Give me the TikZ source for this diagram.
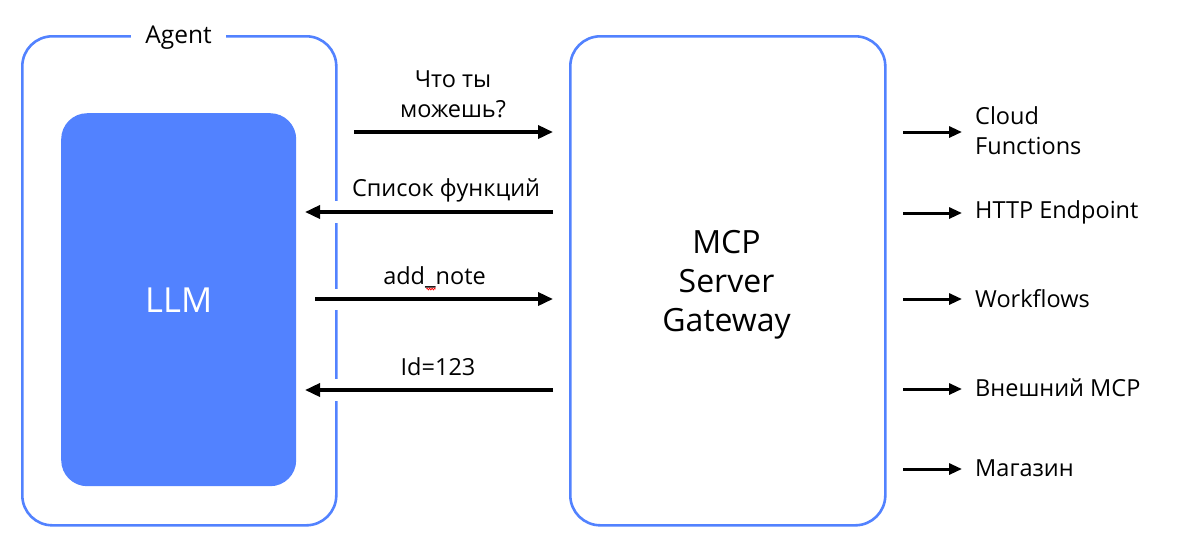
\documentclass[tikz,border=0pt]{standalone}
\usepackage{fontspec}
\setmainfont{Open Sans}
\usetikzlibrary{arrows.meta,decorations.pathmorphing}
\definecolor{yblue}{HTML}{5282FF}
\begin{document}
\begin{tikzpicture}[x=1pt,y=-1pt,
  outerbox/.style={draw=yblue, line width=2.6pt, rounded corners=30pt, anchor=north west, inner sep=0pt},
  lbl/.style={font=\fontsize{23.5}{30}\selectfont, align=center, inner sep=0pt},
  rlbl/.style={font=\fontsize{23.5}{30}\selectfont, align=left, anchor=west, inner sep=0pt},
  arr/.style={line width=3.5pt, -{Triangle[length=15pt,width=13pt]}},
  rarr/.style={line width=3pt, -{Triangle[length=13pt,width=11pt]}},
  gap/.style={fill=white, draw=none}
]
\useasboundingbox (0,0) rectangle (1180,542);
% Agent container
\node[outerbox, minimum width=314pt, minimum height=489pt] (agent) at (21,35) {};
\node[fill=white, inner xsep=14pt, inner ysep=2pt, font=\fontsize{24.5}{28}\selectfont] (agentlbl) at (178.5,37.5) {Agent};
% LLM
\node[fill=yblue, rounded corners=26pt, anchor=north west, minimum width=235pt, minimum height=373pt, inner sep=0pt,
      text=white, font=\fontsize{34.5}{40}\selectfont] (llm) at (61,113) {LLM};
% MCP gateway
\node[outerbox, minimum width=315pt, minimum height=489pt] (mcp) at (569,35) {};
\node[align=center, font=\fontsize{32}{39}\selectfont, inner sep=0pt] (mcplbl) at (726.5,284.5) {MCP\\Server\\Gateway};
% gaps in agent border where arrows cross
\fill[gap] (325,201) rectangle (346,223);
\fill[gap] (325,289) rectangle (346,310);
\fill[gap] (325,379) rectangle (346,401);
% arrow endpoints
\coordinate (a1s) at (354,132); \coordinate (a1e) at (553,132);
\coordinate (a2s) at (553,212); \coordinate (a2e) at (305,212);
\coordinate (a3s) at (315,299); \coordinate (a3e) at (553,299);
\coordinate (a4s) at (553,390); \coordinate (a4e) at (305,390);
\draw[arr] (a1s) -- (a1e);
\draw[arr] (a2s) -- (a2e);
\draw[arr] (a3s) -- (a3e);
\draw[arr] (a4s) -- (a4e);
\node[lbl] (l1) at (453,94.5) {Что ты\\можешь?};
\node[lbl] (l2) at (446,190.5) {Список функций};
\node[lbl] (l3) at (434.5,277) {add\_note};
\node[lbl] (l4) at (438,366.5) {Id=123};
\draw[red, line width=0.7pt, decorate, decoration={zigzag, amplitude=0.9pt, segment length=2.5pt}] (426.5,289) -- (435.5,289);
% right side
\coordinate (r1s) at (903,132); \coordinate (r1e) at (962,132);
\coordinate (r2s) at (903,213); \coordinate (r2e) at (962,213);
\coordinate (r3s) at (903,299); \coordinate (r3e) at (962,299);
\coordinate (r4s) at (903,389); \coordinate (r4e) at (962,389);
\coordinate (r5s) at (903,469); \coordinate (r5e) at (962,469);
\draw[rarr] (r1s) -- (r1e);
\draw[rarr] (r2s) -- (r2e);
\draw[rarr] (r3s) -- (r3e);
\draw[rarr] (r4s) -- (r4e);
\draw[rarr] (r5s) -- (r5e);
\node[rlbl] (t1) at (975,131) {Cloud\\Functions};
\node[rlbl] (t2) at (975,212.5) {HTTP Endpoint};
\node[rlbl] (t3) at (975,299) {Workflows};
\node[rlbl] (t4) at (975,388) {Внешний MCP};
\node[rlbl] (t5) at (975,468.5) {Магазин};
\end{tikzpicture}
\end{document}
